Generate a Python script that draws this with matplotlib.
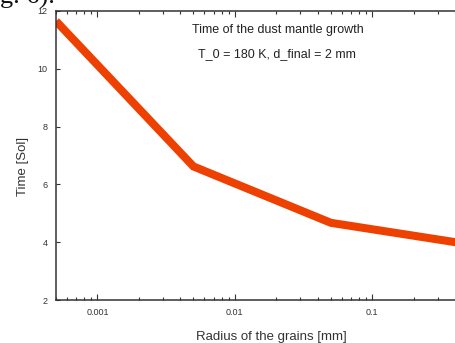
import matplotlib
matplotlib.use("Agg")
import matplotlib.pyplot as plt
from matplotlib.ticker import LogLocator, NullFormatter

plt.rcParams["font.family"] = ["Liberation Sans", "DejaVu Sans"]

radius = [0.0005, 0.005, 0.05, 0.5]
time_sol = [11.65, 6.62, 4.67, 3.93]
xticks = [0.001, 0.01, 0.1]
xtick_labels = ["0.001", "0.01", "0.1"]
yticks = [2, 4, 6, 8, 10, 12]

W, H = 456, 343
fig = plt.figure(figsize=(W / 100, H / 100), dpi=100)
# the original plot frame runs past the right edge of the crop
ax = fig.add_axes([56 / W, 1 - 300 / H, 429 / W, 289 / H])

ax.plot(radius, time_sol, color="#EE4000", lw=5.8, solid_joinstyle="miter",
        solid_capstyle="butt")
ax.set_xscale("log")
ax.set_xlim(0.0005, 0.66)
ax.set_ylim(2, 12)

ax.set_xticks(xticks, xtick_labels)
ax.xaxis.set_minor_locator(LogLocator(base=10, subs=range(2, 10)))
ax.xaxis.set_minor_formatter(NullFormatter())
ax.set_yticks(yticks)
ax.tick_params(which="both", direction="in", top=True, labelsize=6.5, color="#333333",
               labelcolor="#333333", width=0.8)
ax.tick_params(which="major", length=4, pad=6)
ax.tick_params(which="minor", length=2)
ax.tick_params(axis="y", length=3, pad=6)

for side in ax.spines:
    ax.spines[side].set_color("#333333")
    ax.spines[side].set_linewidth(1.1)

ax.set_xlabel("Radius of the grains [mm]", fontsize=9.5, color="#333333")
ax.set_ylabel("Time [Sol]", fontsize=9.5, color="#333333")
ax.xaxis.set_label_coords(271 / W, 1 - 331 / H, transform=fig.transFigure)
ax.yaxis.set_label_coords(29 / W, 1 - 166 / H, transform=fig.transFigure)

ax.text(278 / W, 1 - 30 / H, "Time of the dust mantle growth", transform=fig.transFigure,
        fontsize=9, ha="center", va="center", color="#222222")
ax.text(277 / W, 1 - 54 / H, "T_0 = 180 K, d_final = 2 mm", transform=fig.transFigure,
        fontsize=9, ha="center", va="center", color="#222222")

# fragment of the caption from the page the figure was cropped from
fig.text(0.0, 1 - 4 / H, "g. 6).", family=["Liberation Serif", "DejaVu Serif"],
         fontsize=19, ha="left", va="baseline", color="#111111")

fig.savefig("out.png", dpi=100)
